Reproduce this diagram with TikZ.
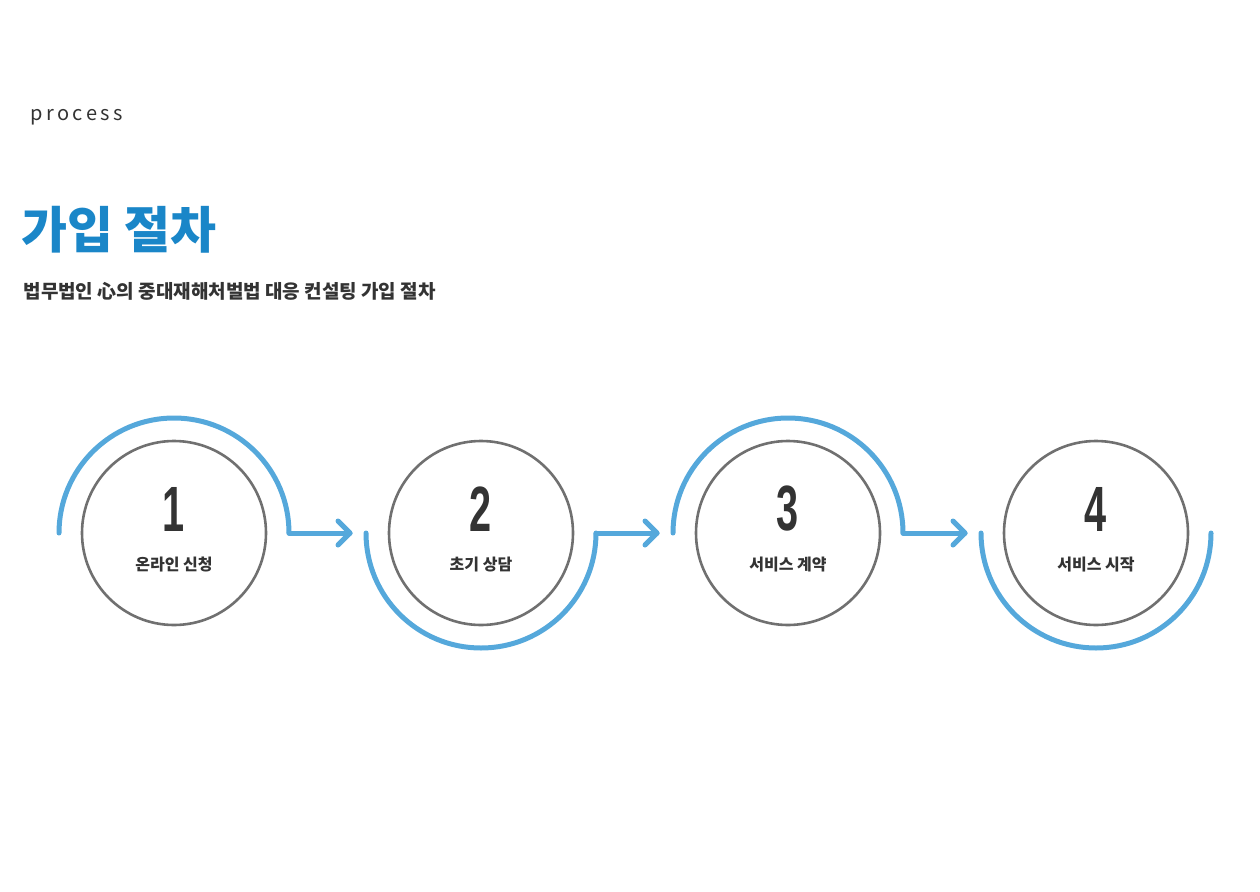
\documentclass[tikz,border=0pt]{standalone}
\usepackage{fontspec}
\setmainfont{Noto Sans CJK KR}
\newfontfamily\numf{Liberation Sans}
\usetikzlibrary{calc}
\definecolor{blu}{HTML}{55A8DB}
\definecolor{ttl}{HTML}{1A86C8}
\definecolor{gry}{HTML}{707070}
\definecolor{dk}{HTML}{333333}
\begin{document}
\begin{tikzpicture}[x=1pt,y=-1pt,
  ring/.style={draw=gry,line width=2.6pt,circle,minimum size=184pt,inner sep=0pt},
  arc/.style={draw=blu,line width=5pt,line cap=round},
  arr/.style={draw=blu,line width=5pt,line cap=round,line join=round},
  num/.style={text=dk,font=\numf\bfseries\fontsize{64}{64}\selectfont,xscale=0.62},
  lab/.style={text=dk,font=\bfseries\fontsize{16}{18}\selectfont}]
\useasboundingbox (0,0) rectangle (1260,891);
\node[anchor=west,text=dk,font=\fontsize{20}{22}\selectfont] (p) at (27,117) {p\,r\,o\,c\,e\,s\,s};
\node[anchor=west,text=ttl,font=\bfseries\fontsize{50}{54}\selectfont] (t) at (18,230) {가입 절차};
\node[anchor=west,text=dk,font=\bfseries\fontsize{19}{22}\selectfont] (s) at (20,291) {법무법인 心의 중대재해처벌법 대응 컨설팅 가입 절차};
\foreach \i/\x/\t/\up in {1/174/온라인 신청/1,2/481/초기 상담/0,3/788/서비스 계약/1,4/1096/서비스 시작/0}{
  \node[ring] (c\i) at (\x,533) {};
  \node[num] (n\i) at (\x,509) {\i};
  \node[lab] (l\i) at (\x,565) {\t};
  \coordinate (a\i) at (\x-115,533);
  \coordinate (b\i) at (\x+115,533);
  \ifnum\up=1
    \draw[arc] (a\i) arc[start angle=180,end angle=360,radius=115];
  \else
    \draw[arc] (a\i) arc[start angle=180,end angle=0,radius=115];
  \fi
}
\foreach \i/\j in {1/2,2/3,3/4}{
  \coordinate (e\i) at ($(a\j)+(-16,0)$);
  \draw[arr] (b\i) -- (e\i);
  \draw[arr] ($(e\i)+(-12,-12)$) -- (e\i) -- ($(e\i)+(-12,12)$);
}
\end{tikzpicture}
\end{document}
